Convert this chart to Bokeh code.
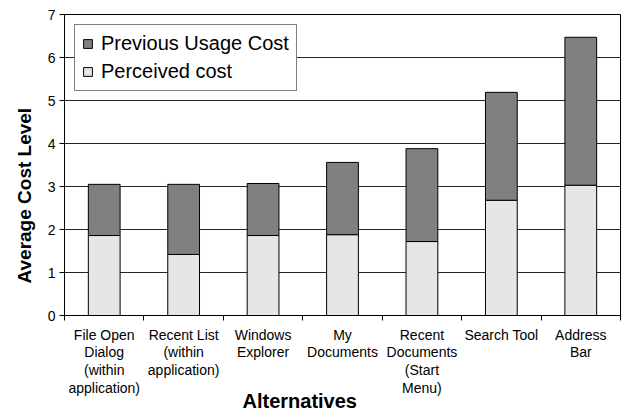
import numpy as np
from bokeh.plotting import figure
from bokeh.models import FixedTicker, ColumnDataSource, Range1d, Legend, LegendItem, Title
from bokeh.embed import file_html
from bokeh.resources import INLINE

categories = ["File Open\nDialog\n(within\napplication)", "Recent List\n(within\napplication)",
              "Windows\nExplorer", "My\nDocuments", "Recent\nDocuments\n(Start\nMenu)",
              "Search Tool", "Address\nBar"]
perceived = [1.86, 1.42, 1.86, 1.88, 1.72, 2.68, 3.03]
total = [3.05, 3.05, 3.07, 3.56, 3.88, 5.19, 6.47]
previous = [t - p for t, p in zip(total, perceived)]
y_ticks = [0, 1, 2, 3, 4, 5, 6, 7]

FONT = "Liberation Sans"
n = len(categories)
xs = list(np.arange(n) + 0.5)

src = ColumnDataSource(dict(x=xs, perceived=perceived, previous=previous))

p = figure(frame_width=556, frame_height=301, output_backend="svg", toolbar_location=None,
           x_range=Range1d(0, n), y_range=Range1d(0, 7),
           min_border_left=64, min_border_top=14, min_border_right=1, min_border_bottom=97)

r = p.vbar_stack(["perceived", "previous"], x="x", width=0.4, source=src,
                 color=["#e6e6e6", "#808080"], line_color="black", line_width=1)

p.background_fill_color = "white"
p.border_fill_color = "white"
p.outline_line_color = "black"
p.outline_line_width = 1

p.xgrid.grid_line_color = None
p.ygrid.grid_line_color = "black"
p.ygrid.grid_line_alpha = 0.85
p.ygrid.ticker = FixedTicker(ticks=y_ticks)

xa = p.xaxis[0]
xa.ticker = FixedTicker(ticks=xs, minor_ticks=list(range(n + 1)))
xa.major_label_overrides = {x: c for x, c in zip(xs, categories)}
xa.major_tick_out = 0
xa.major_tick_in = 0
xa.minor_tick_out = 5
xa.minor_tick_in = 0
xa.minor_tick_line_color = "black"
xa.axis_line_color = "black"
xa.major_label_text_font = FONT
xa.major_label_text_font_size = "14px"
xa.major_label_text_color = "black"
xa.major_label_standoff = 6
xa.major_label_text_line_height = 1.12

ya = p.yaxis[0]
ya.ticker = FixedTicker(ticks=y_ticks)
ya.minor_tick_line_color = None
ya.major_tick_out = 5
ya.major_tick_in = 0
ya.major_tick_line_color = "black"
ya.axis_line_color = "black"
ya.major_label_text_font = FONT
ya.major_label_text_font_size = "14px"
ya.major_label_text_color = "black"
ya.major_label_standoff = 4

xt_kw = dict(text="Alternatives", align="left", offset=178, vertical_align="top",
             text_font=FONT, text_font_size="20px", text_font_style="bold",
             text_color="black")
try:
    xtitle = Title(standoff=-20, **xt_kw)
except Exception:
    xtitle = Title(standoff=0, **xt_kw)
p.add_layout(xtitle, "below")

ytitle = Title(text="Average Cost Level", align="left", offset=32, standoff=20,
               text_font=FONT, text_font_size="19px", text_font_style="bold",
               text_color="black")
p.add_layout(ytitle, "left")

legend = Legend(items=[LegendItem(label="Previous Usage Cost", renderers=[r[1]]),
                       LegendItem(label="Perceived cost", renderers=[r[0]])],
                location="top_left")
legend.label_text_font = FONT
legend.label_text_font_size = "20px"
legend.label_text_color = "black"
legend.glyph_width = 11
legend.glyph_height = 11
legend.label_standoff = 8
legend.spacing = 5
legend.padding = 7
legend.margin = 10
legend.border_line_color = "black"
legend.border_line_width = 1
legend.background_fill_color = "white"
legend.background_fill_alpha = 1
p.add_layout(legend, "center")

open("out.html", "w").write(file_html(p, INLINE))
